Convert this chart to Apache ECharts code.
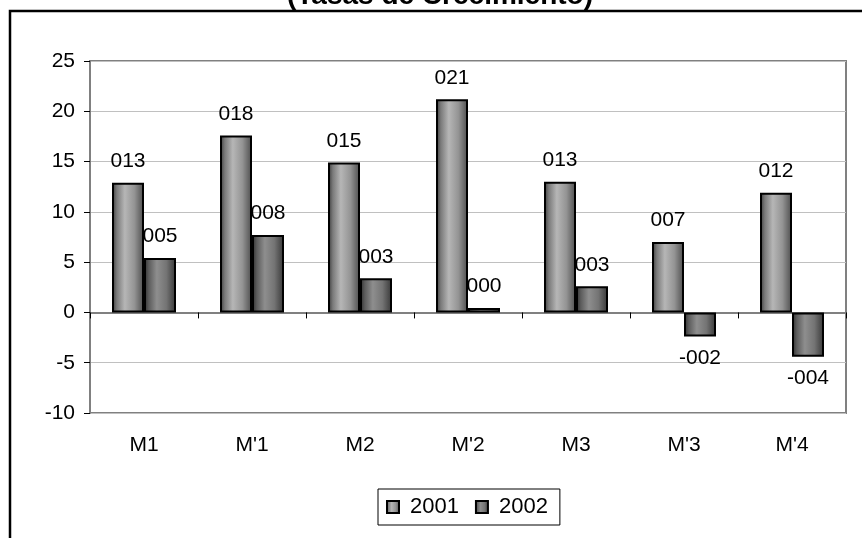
<!DOCTYPE html>
<html style="height: 100%">
<head>
  <meta charset="utf-8">
  <title>Tasas de Crecimiento</title>
</head>
<body style="height: 100%; margin: 0; background: #fff">
<div id="container" style="width: 862px; height: 538px"></div>
<script src="https://cdn.jsdelivr.net/npm/echarts@6/dist/echarts.min.js"></script>
<script>
  var categories = ['M1', "M'1", 'M2', "M'2", 'M3', "M'3", "M'4"];
  var values2001 = [12.9, 17.6, 14.9, 21.2, 13.0, 7.0, 11.9];
  var values2002 = [5.4, 7.7, 3.4, 0.45, 2.6, -2.4, -4.4];
  var seriesNames = ['2001', '2002'];

  var font = 'Liberation Sans, Arial, sans-serif';

  // cylinder-like shading, dark edges light centre
  function shade(stops) {
    return {
      type: 'linear', x: 0, y: 0, x2: 1, y2: 0,
      colorStops: stops.map(function (c) { return { offset: c[0], color: c[1] }; })
    };
  }
  var fill2001 = shade([[0, '#383838'], [0.15, '#7a7a7a'], [0.4, '#b6b6b6'], [0.7, '#949494'], [1, '#4c4c4c']]);
  var fill2002 = shade([[0, '#2c2c2c'], [0.15, '#5c5c5c'], [0.4, '#8e8e8e'], [0.7, '#747474'], [1, '#363636']]);

  function fmt(p) {
    var v = p.value;
    var s = String(Math.round(Math.abs(v)));
    while (s.length < 3) s = '0' + s;
    return (v < 0 ? '-' : '') + s;
  }

  function toItems(arr) {
    return arr.map(function (v) {
      return { value: v, label: { position: v < 0 ? 'bottom' : 'top' } };
    });
  }

  function barSeries(name, arr, fill) {
    return {
      name: name,
      type: 'bar',
      xAxisIndex: 0,
      data: toItems(arr),
      barWidth: 32,
      barGap: '0%',
      itemStyle: { color: fill, borderColor: '#000', borderWidth: 2 },
      label: {
        show: true,
        distance: 11,
        color: '#000',
        fontFamily: font,
        fontSize: 21,
        formatter: fmt
      },
      emphasis: { disabled: true }
    };
  }

  var chart = echarts.init(document.getElementById('container'));
  var option = {
    animation: false,
    backgroundColor: '#fff',
    graphic: [
      {
        type: 'rect',
        shape: { x: 10, y: 11, width: 900, height: 600 },
        style: { fill: 'none', stroke: '#000', lineWidth: 2.5 },
        silent: true
      },
      {
        type: 'text',
        x: 440, y: -4,
        style: {
          text: '(Tasas de Crecimiento)',
          font: 'bold 28px ' + font,
          fill: '#000',
          align: 'center',
          verticalAlign: 'middle'
        },
        silent: true
      }
    ],
    legend: {
      data: seriesNames,
      left: 378,
      top: 489,
      orient: 'horizontal',
      icon: 'rect',
      itemWidth: 12,
      itemHeight: 12,
      itemGap: 16,
      padding: [7, 12, 7, 8],
      borderColor: '#000',
      borderWidth: 1,
      textStyle: { color: '#000', fontFamily: font, fontSize: 22, padding: [0, 0, 0, 6] }
    },
    grid: {
      left: 90,
      right: 16,
      top: 61,
      bottom: 125,
      show: true,
      borderColor: '#808080',
      borderWidth: 2,
      backgroundColor: '#fff'
    },
    xAxis: [
      {
        type: 'category',
        data: categories,
        position: 'bottom',
        axisLine: { show: false, onZero: false },
        axisTick: { show: false },
        axisLabel: { color: '#000', fontFamily: font, fontSize: 21, margin: 22 }
      },
      {
        type: 'category',
        data: categories,
        position: 'bottom',
        axisLine: { show: true, onZero: true, lineStyle: { color: '#808080', width: 2 } },
        axisTick: { show: true, length: 6, lineStyle: { color: '#000', width: 1 } },
        axisLabel: { show: false }
      }
    ],
    yAxis: {
      type: 'value',
      min: -10,
      max: 25,
      interval: 5,
      axisLine: { show: true, lineStyle: { color: '#808080', width: 2 } },
      axisTick: { show: true, length: 6, lineStyle: { color: '#000', width: 1 } },
      axisLabel: { color: '#000', fontFamily: font, fontSize: 21, margin: 15 },
      splitLine: { lineStyle: { color: '#c0c0c0', width: 1 } }
    },
    series: [
      barSeries(seriesNames[0], values2001, fill2001),
      barSeries(seriesNames[1], values2002, fill2002)
    ]
  };
  chart.setOption(option);
</script>
</body>
</html>
